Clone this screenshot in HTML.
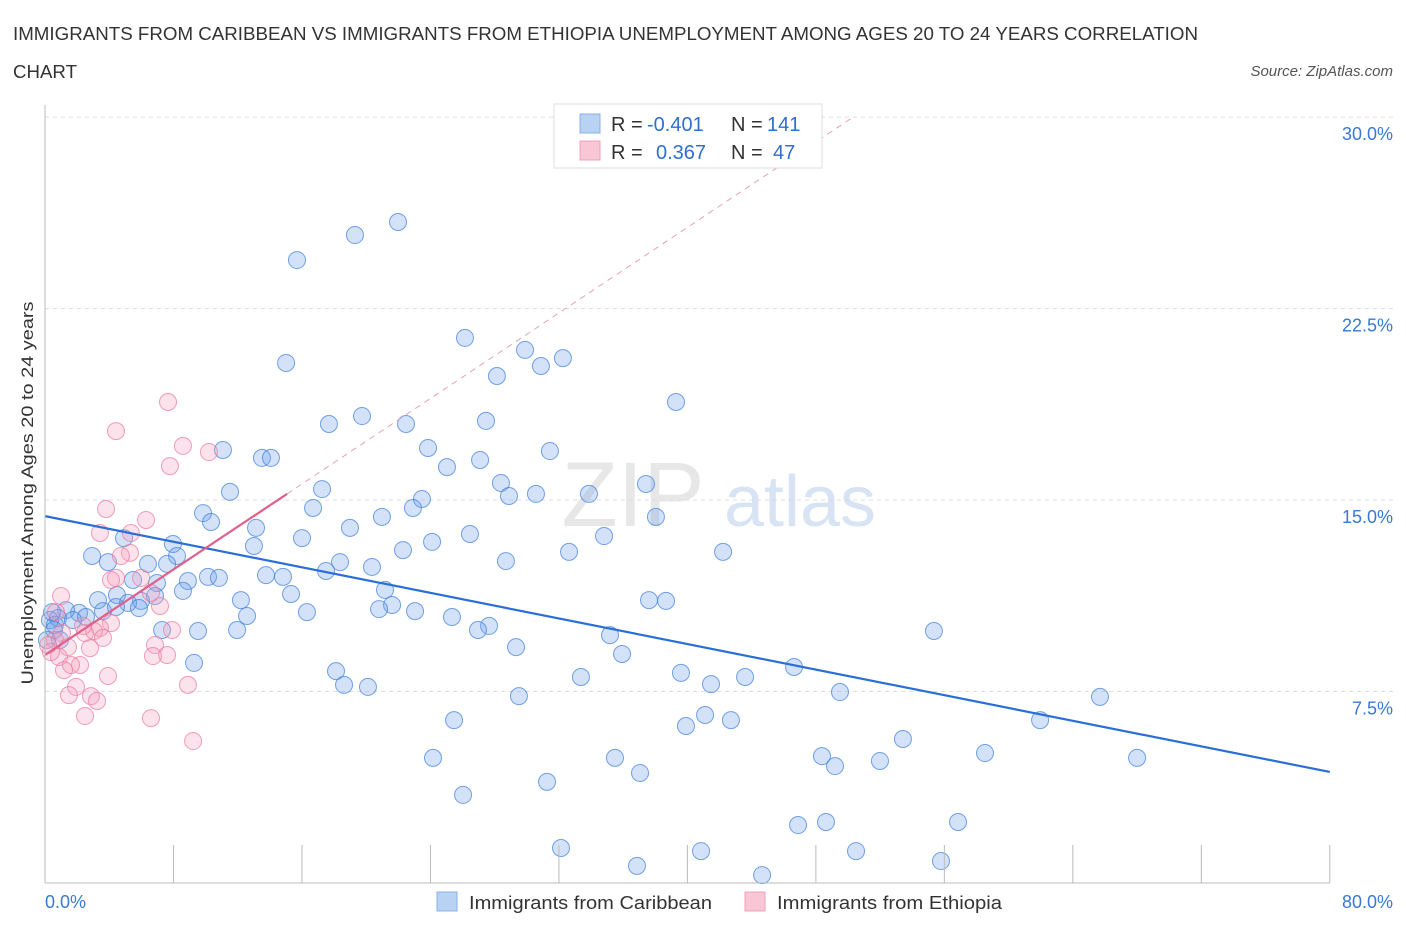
<!DOCTYPE html>
<html><head><meta charset="utf-8"><style>
body{margin:0;background:#fff;font-family:"Liberation Sans",sans-serif;}
svg text{font-family:"Liberation Sans",sans-serif;}
</style></head><body>
<svg id="chart" width="1406" height="930" xmlns="http://www.w3.org/2000/svg">
<text x="13" y="40" font-size="18" fill="#333" textLength="1185" lengthAdjust="spacingAndGlyphs">IMMIGRANTS FROM CARIBBEAN VS IMMIGRANTS FROM ETHIOPIA UNEMPLOYMENT AMONG AGES 20 TO 24 YEARS CORRELATION</text>
<text x="13" y="78" font-size="18" fill="#333" textLength="64" lengthAdjust="spacingAndGlyphs">CHART</text>
<text x="1393" y="76" font-size="15" fill="#555" font-style="italic" text-anchor="end">Source: ZipAtlas.com</text>
<g id="grid"></g>
<g><text x="633" y="526" font-size="92" fill="#ddd" font-family="Liberation Serif" text-anchor="middle" opacity="0.7">ZIP</text><text x="800" y="526" font-size="72" fill="#c8daf0" text-anchor="middle" opacity="0.7">atlas</text></g>
<g id="pts"></g>
<g id="lines"></g>
<g id="axes"></g>
<text transform="translate(33,493) rotate(-90)" font-size="17" fill="#333" text-anchor="middle" textLength="383" lengthAdjust="spacingAndGlyphs">Unemployment Among Ages 20 to 24 years</text>
<g>
<rect x="554" y="104" width="268" height="64" fill="#fff" stroke="#ddd"/>
<rect x="580" y="114" width="20" height="19" fill="#b8d2f4" stroke="#8ab0e6"/>
<rect x="580" y="141" width="20" height="19" fill="#f9c6d6" stroke="#f0a0bb"/>
<text x="611" y="131" font-size="20" fill="#333">R = <tspan fill="#2f6fd0" x="647">-0.401</tspan></text>
<text x="731" y="131" font-size="20" fill="#333">N = <tspan fill="#2f6fd0" x="767">141</tspan></text>
<text x="611" y="159" font-size="20" fill="#333">R = <tspan fill="#2f6fd0" x="656">0.367</tspan></text>
<text x="731" y="159" font-size="20" fill="#333">N = <tspan fill="#2f6fd0" x="773">47</tspan></text>
</g>
<g>
<rect x="437" y="892" width="20" height="19" fill="#b8d2f4" stroke="#8ab0e6"/>
<text x="469" y="909" font-size="18" fill="#333" textLength="243" lengthAdjust="spacingAndGlyphs">Immigrants from Caribbean</text>
<rect x="745" y="892" width="20" height="19" fill="#f9c6d6" stroke="#f0a0bb"/>
<text x="777" y="909" font-size="18" fill="#333" textLength="225" lengthAdjust="spacingAndGlyphs">Immigrants from Ethiopia</text>
</g>
</svg>
<script>
const blueX=[21.98,19.30,15.69,26.15,29.89,32.25,30.88,15.01,28.14,39.29,19.74,17.68,22.48,27.46,11.08,23.85,31.44,13.51,14.07,25.03,27.09,11.52,17.25,28.39,37.42,28.89,30.57,33.87,23.47,22.91,9.84,16.69,20.98,38.04,10.34,13.14,18.99,26.46,34.81,24.10,4.92,7.97,13.01,16.00,22.29,32.63,42.22,2.93,3.92,6.41,8.22,7.60,28.70,18.37,20.36,17.50,13.76,14.82,10.15,10.83,8.90,5.48,6.97,21.17,8.59,15.32,4.48,3.30,6.85,5.98,12.20,5.17,37.61,38.67,21.61,20.80,23.04,16.31,12.58,3.61,2.12,1.31,0.81,2.55,1.74,0.31,0.62,5.85,4.42,25.34,27.65,26.96,9.53,7.29,11.96,35.18,55.35,29.33,35.93,9.28,18.12,18.62,20.11,46.64,33.37,39.60,41.47,43.59,29.51,49.50,65.69,61.96,25.47,39.91,41.10,42.71,53.42,58.53,24.16,35.49,48.38,49.19,51.99,68.00,37.05,31.26,26.03,46.89,48.63,56.85,32.13,40.85,50.50,36.86,55.79,44.65,0.44,0.93,0.56,0.12];
const blueY=[25.89,25.38,24.40,21.35,20.88,20.56,20.25,20.37,19.86,18.84,18.29,17.98,17.98,18.10,16.96,17.04,16.92,16.65,16.65,16.29,16.57,15.32,15.43,15.67,15.63,15.16,15.24,15.24,15.04,14.69,14.49,14.69,14.34,14.34,14.14,13.91,13.91,13.67,13.59,13.36,13.51,13.28,13.20,13.51,13.04,12.97,12.97,12.81,12.57,12.50,12.81,12.50,12.61,12.57,12.38,12.22,12.06,11.99,11.99,11.95,11.83,11.87,11.75,11.48,11.44,11.32,11.28,11.08,11.24,11.05,11.08,10.97,11.08,11.05,10.89,10.73,10.65,10.61,10.46,10.65,10.58,10.69,10.38,10.42,10.30,10.30,10.11,10.77,10.81,10.42,10.07,9.91,9.87,9.91,9.91,9.71,9.87,9.24,8.97,8.62,8.30,7.76,7.68,8.46,8.07,8.23,7.79,8.07,7.32,7.48,7.29,6.38,6.38,6.15,6.58,6.38,5.64,5.09,4.90,4.90,4.97,4.58,4.78,4.90,4.31,3.96,3.45,2.27,2.39,2.39,1.37,1.25,1.25,0.67,0.86,0.31,10.61,9.52,9.91,9.52];
const pinkX=[7.66,4.42,8.59,10.21,7.78,3.80,6.29,3.42,5.35,5.29,4.73,4.42,4.11,5.98,1.00,7.16,4.11,3.42,2.49,3.05,3.61,2.37,1.06,0.62,1.43,2.80,0.87,2.18,1.62,7.91,6.85,7.60,6.72,0.37,1.18,3.92,1.93,1.49,2.86,3.24,2.49,6.60,8.90,9.22,6.60,0.19,0.68];
const pinkY=[18.84,17.70,17.12,16.88,16.33,14.65,14.22,13.71,13.71,12.93,12.81,11.95,11.87,11.95,11.24,10.85,10.18,9.99,9.79,9.87,9.60,10.07,9.79,9.52,9.24,9.20,8.85,8.54,8.54,9.91,9.32,8.93,8.89,9.05,8.34,8.11,7.68,7.36,7.32,7.13,6.54,6.46,7.76,5.56,11.36,9.32,10.61];
const blueTrend=[14.37,4.35];
const pinkTrend=[8.93,15.24];
const pinkTrendEndX=15.07;
const yTicks=[7.5,15,22.5,30];
const xTickLabels=["0.0%","80.0%"];
const NS="http://www.w3.org/2000/svg";
const sx=v=>45+v*16.06, sy=v=>883-v*25.53;
function mk(p,t,a){const e=document.createElementNS(NS,t);for(const k in a)e.setAttribute(k,a[k]);p.appendChild(e);return e;}
const grid=document.getElementById('grid'),axes=document.getElementById('axes'),pts=document.getElementById('pts'),lines=document.getElementById('lines');
yTicks.forEach(v=>{const g=mk(grid,'line',{x1:45,x2:1393,y1:sy(v),y2:sy(v),stroke:'#ddd','stroke-dasharray':'4,4'});


const t=mk(axes,'text',{x:1393,y:sy(v)+23,'font-size':18,fill:'#3a78d4','text-anchor':'end'});t.textContent=v.toFixed(1)+'%';

});
mk(axes,'line',{x1:45,x2:45,y1:105,y2:883,stroke:'#bbb'});
mk(axes,'line',{x1:45,x2:1330,y1:883,y2:883,stroke:'#bbb'});
for(let i=0;i<=10;i++){const l=mk(axes,'line',{x1:sx(i*8),x2:sx(i*8),y1:845,y2:883,stroke:'#bbb'});

}
[[0,'start',45],[80,'end',1393]].forEach((d,i)=>{const t=mk(axes,'text',{x:d[2],y:908,'font-size':18,fill:'#3a78d4','text-anchor':d[1]});t.textContent=xTickLabels[i];

});
blueX.forEach((x,i)=>{const c=mk(pts,'circle',{cx:sx(x),cy:sy(blueY[i]),r:8.5,fill:'rgba(110,160,235,0.3)',stroke:'rgba(60,125,215,0.7)','stroke-width':1});

});
pinkX.forEach((x,i)=>{const c=mk(pts,'circle',{cx:sx(x),cy:sy(pinkY[i]),r:8.5,fill:'rgba(245,160,190,0.3)',stroke:'rgba(235,120,155,0.7)','stroke-width':1});

});
const slope=(pinkTrend[1]-pinkTrend[0])/pinkTrendEndX;
const xe=(30-pinkTrend[0])/slope;
const pd=mk(lines,'line',{x1:sx(pinkTrendEndX),y1:sy(pinkTrend[1]),x2:sx(xe),y2:sy(30),stroke:'#e8a0b8','stroke-dasharray':'6,5','stroke-width':1});


const bl=mk(lines,'line',{x1:sx(0),y1:sy(blueTrend[0]),x2:sx(80),y2:sy(blueTrend[1]),stroke:'#2a6fd6','stroke-width':2.2});


const pl=mk(lines,'line',{x1:sx(0),y1:sy(pinkTrend[0]),x2:sx(pinkTrendEndX),y2:sy(pinkTrend[1]),stroke:'#e0608a','stroke-width':2.2});


</script>
</body></html>
